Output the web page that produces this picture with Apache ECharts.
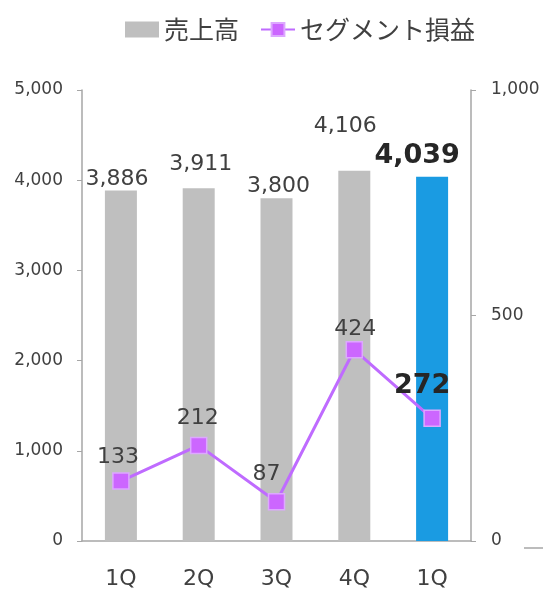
<!DOCTYPE html>
<html><head><meta charset="utf-8">
<script src="https://cdn.jsdelivr.net/npm/echarts@6/dist/echarts.min.js"></script>
<style>html,body{margin:0;padding:0;background:#fff}#c{width:543px;height:591px}</style>
</head><body><div id="c"></div>
<script>
const categories = ['1Q','2Q','3Q','4Q','1Q'];
const salesValues = [3886, 3911, 3800, 4106, 4039];
const profitValues = [133, 212, 87, 424, 272];
const leftTicks = [0, 1000, 2000, 3000, 4000, 5000];
const rightTicks = [0, 500, 1000];

const chart = echarts.init(document.getElementById('c'));
const numFont = 'DejaVu Sans, Verdana, sans-serif';
const txt = '#404040';
const fmt = v => v.toLocaleString('en-US');
const barLbl = [[-4, 0], [2, 13], [2, 1], [-9, 33], [-15, 7]];
const lineLbl = [[-3, 4], [-1, 7], [-10, 8], [1, 1], [-10, 10]];
const last = categories.length - 1;

const barData = salesValues.map((v, i) => ({
  value: v,
  itemStyle: { color: i === last ? '#1A9BE2' : '#BFBFBF' },
  label: Object.assign({ distance: barLbl[i][1], offset: [barLbl[i][0], 0] },
    i === last ? { fontSize: 27, fontWeight: 'bold', color: '#262626' } : {})
}));
const lineData = profitValues.map((v, i) => ({
  value: v,
  label: Object.assign({ distance: lineLbl[i][1], offset: [lineLbl[i][0], 0] },
    i === last ? { fontSize: 27, fontWeight: 'bold', color: '#262626' } : {})
}));

chart.setOption({
  animation: false,
  backgroundColor: '#fff',
  textStyle: { fontFamily: numFont },
  legend: {
    top: 12, left: 120,
    itemGap: 21, itemWidth: 34, itemHeight: 16,
    textStyle: { fontFamily: 'Noto Sans CJK JP', fontSize: 25, color: txt },
    data: [
      { name: '売上高', icon: 'rect' },
      { name: 'セグメント損益' }
    ]
  },
  grid: { left: 82, right: 72, top: 90, bottom: 50 },
  xAxis: {
    type: 'category', data: categories,
    axisLine: { lineStyle: { color: '#A6A6A6', width: 1.5 } },
    axisTick: { inside: true, length: 7, lineStyle: { color: '#A6A6A6' } },
    axisLabel: { fontSize: 22, color: txt, margin: 27, fontFamily: numFont }
  },
  yAxis: [
    {
      type: 'value', min: 0, max: 5000, interval: 1000,
      splitLine: { show: false },
      axisLine: { show: true, lineStyle: { color: '#A6A6A6', width: 1.5 } },
      axisTick: { show: true, length: 5, lineStyle: { color: '#A6A6A6' } },
      axisLabel: { fontSize: 17, color: txt, margin: 19, formatter: v => leftTicks.includes(v) ? fmt(v) : '' }
    },
    {
      type: 'value', min: 0, max: 1000, interval: 500,
      splitLine: { show: false },
      axisLine: { show: true, lineStyle: { color: '#A6A6A6', width: 1.5 } },
      axisTick: { show: true, length: 5, lineStyle: { color: '#A6A6A6' } },
      axisLabel: { fontSize: 17, color: txt, margin: 20, formatter: v => rightTicks.includes(v) ? fmt(v) : '' }
    }
  ],
  series: [
    {
      name: '売上高', type: 'bar', yAxisIndex: 0, barWidth: 32,
      itemStyle: { color: '#BFBFBF' },
      label: { show: true, position: 'top', fontSize: 22, color: txt, formatter: p => fmt(p.value) },
      data: barData
    },
    {
      name: 'セグメント損益', type: 'line', yAxisIndex: 1,
      symbol: 'rect', symbolSize: 16,
      lineStyle: { color: '#BF6BFF', width: 3 },
      itemStyle: { color: '#CC66FF', borderColor: '#DDA8FF', borderWidth: 1.5 },
      label: { show: true, position: 'top', fontSize: 22, color: txt, formatter: p => fmt(p.value) },
      data: lineData, z: 5
    }
  ],
  graphic: [
    { type: 'line', shape: { x1: 524, y1: 548, x2: 543, y2: 548 }, style: { stroke: '#A6A6A6', lineWidth: 1.5 } }
  ]
});
</script></body></html>
